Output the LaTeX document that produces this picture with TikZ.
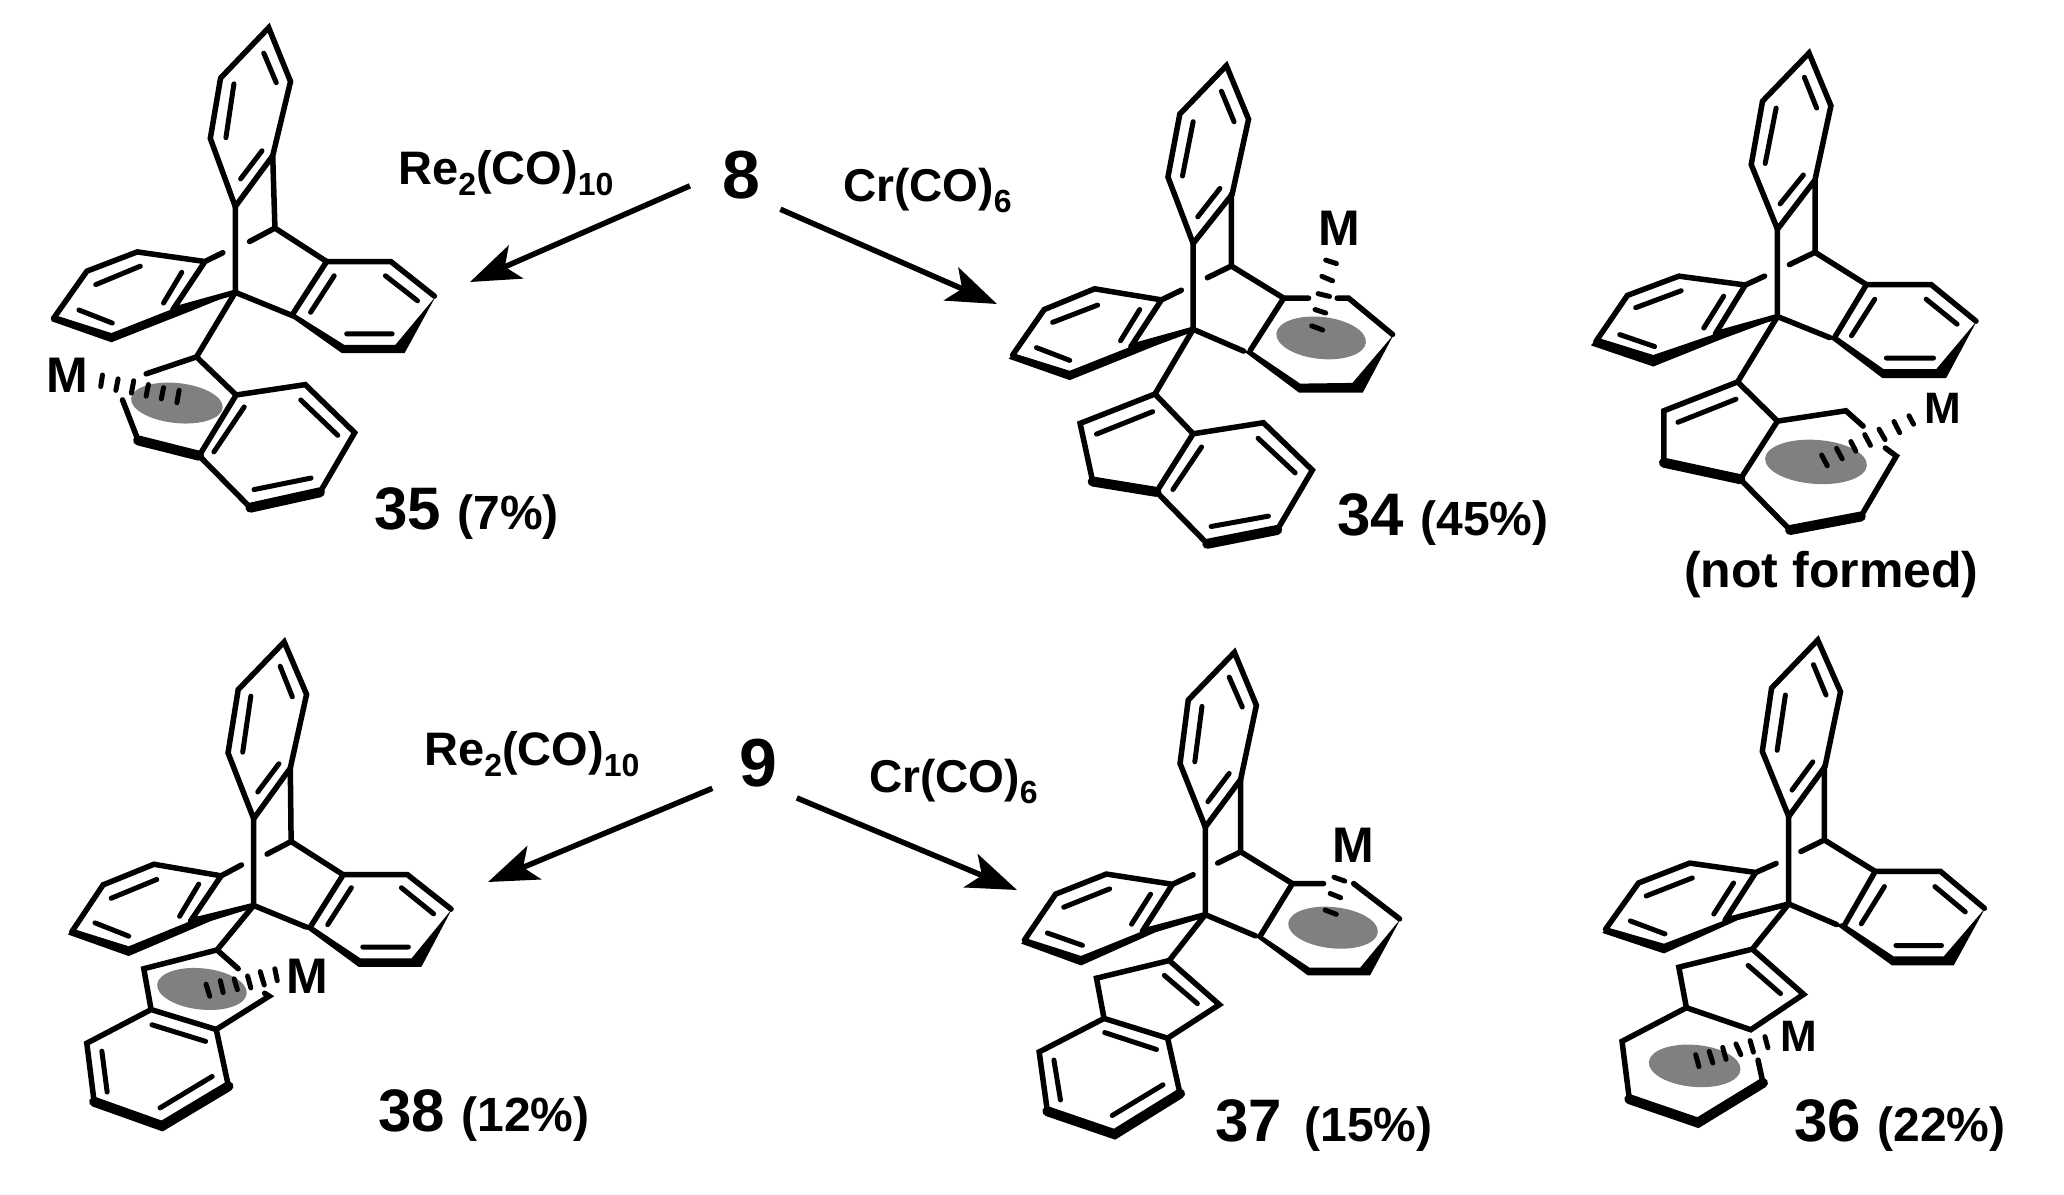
\documentclass[tikz,border=0pt]{standalone}
\usepackage{fontspec}
\setmainfont{Liberation Sans}
\usetikzlibrary{arrows.meta}
\newcommand{\lowdig}[1]{\raisebox{-0.24em}{\fontsize{32}{32}\selectfont #1}}
\newcommand{\yieldpart}[1]{{\fontsize{48}{48}\selectfont #1}}
\tikzset{
  bond/.style={line width=5.5pt, line cap=round, line join=miter},
  inbond/.style={line width=5pt, line cap=round},
  heavy/.style={line width=10pt, line cap=round},
  front/.style={fill=black},
  hash/.style={line width=5pt, line cap=round},
  metal/.style={fill=black!50},
  rxn/.style={line width=5.5pt, -{Stealth[length=50pt,width=36pt,inset=12pt]}},
  source/.style={circle, minimum size=104pt, inner sep=0pt, font=\bfseries\fontsize{68}{68}\selectfont},
  reagent/.style={anchor=base west, inner sep=0pt, font=\bfseries\fontsize{47}{47}\selectfont},
  yieldtag/.style={anchor=base west, inner sep=0pt, font=\bfseries\fontsize{60}{60}\selectfont},
  mlabel/.style={inner sep=0pt, font=\bfseries\fontsize{#1}{#1}\selectfont}
}
\begin{document}
\begin{tikzpicture}[x=1pt,y=-1pt]
  \useasboundingbox (0,0) rectangle (2064,1194);

  \node[source] (eight) at (741,175) {8};
  \node[source] (nine) at (758,763) {9};
  \coordinate (tipA) at (470,282);
  \coordinate (tipB) at (997,304);
  \coordinate (tipC) at (488,882);
  \coordinate (tipD) at (1017,890);
  \draw[rxn] (eight.192) -- (tipA);
  \draw[rxn] (eight.-41) -- (tipB);
  \draw[rxn] (nine.209) -- (tipC);
  \draw[rxn] (nine.-42) -- (tipD);

  \node[reagent] (reTop) at (398,184) {Re\lowdig{2}(CO)\lowdig{10}};
  \node[reagent, font=\bfseries\fontsize{46}{46}\selectfont] (crTop) at (843,201) {Cr(CO)\lowdig{6}};
  \node[reagent] (reLow) at (424,765) {Re\lowdig{2}(CO)\lowdig{10}};
  \node[reagent, font=\bfseries\fontsize{46}{46}\selectfont] (crLow) at (869,792) {Cr(CO)\lowdig{6}};

  \node[yieldtag] (tag35) at (374,529) {35 \yieldpart{(7\%)}};
  \node[yieldtag] (tag34) at (1337,535) {34 \yieldpart{(45\%)}};
  \node[yieldtag] (tag38) at (378,1131) {38 \yieldpart{(12\%)}};
  \node[yieldtag] (tag37) at (1215,1141) {37\hspace{6pt} \yieldpart{(15\%)}};
  \node[yieldtag] (tag36) at (1794,1141) {36 \yieldpart{(22\%)}};
  \node[reagent, font=\bfseries\fontsize{50}{50}\selectfont] (tagNone) at (1684,587) {(not formed)};

  \begin{scope}[shift={(0,0)},x=.4456pt,y=-.3846pt]
    \fill[metal] (397,1048) ellipse [x radius=46pt, y radius=20pt, rotate=-6];
    \draw[bond] (603,72) -- (652,212) -- (612,405) -- (528,537) -- (472,360) -- (495,203) -- cycle;
    \draw[inbond] (592,138) -- (620,215) (525,218) -- (507,358) (588,392) -- (540,465);
    \draw[bond] (612,405) -- (617,593) -- (733,680) (617,593) -- (560,628) (528,537) -- (528,760);
    \draw[bond] (500,657) -- (460,680) -- (308,655) -- (195,705) -- (120,828) (460,680) -- (388,805) (388,805) -- (528,760);
    \draw[inbond] (408,708) -- (367,788) (315,692) -- (215,740) (177,806) -- (252,840);
    \fill[front] (528,758) -- (388,803) -- (250,866) -- (125,820) -- (115,835) -- (250,890) -- (430,808) -- (528,762) -- cycle;
    \draw[bond] (733,680) -- (877,680) -- (975,770) (733,680) -- (655,820) -- (528,760);
    \fill[front] (645,818) -- (767,918) -- (908,918) -- (977,772) -- (887,897) -- (773,897) -- (660,815) -- cycle;
    \draw[inbond] (750,717) -- (697,812) (865,717) -- (937,782) (778,868) -- (880,868);
    \draw[bond] (528,760) -- (441,928) -- (328,972) (441,928) -- (530,1027) -- (685,1000) -- (796,1125) -- (718,1280) (562,1320) -- (447,1185) -- (530,1027) (310,1145) -- (275,1040);
    \draw[heavy] (718,1280) -- (562,1320) (447,1185) -- (310,1145);
    \draw[inbond] (548,1058) -- (480,1175) (675,1040) -- (758,1132) (698,1243) -- (570,1273);
    \draw[hash] (230,975) -- (226,1005) (265,985) -- (260,1015) (300,990) -- (295,1022) (333,1000) -- (328,1030) (367,1008) -- (362,1037) (402,1015) -- (397,1047);
    \node[mlabel=50] (mA) at (152,977) {M};
  \end{scope}

  \begin{scope}[shift={(980,30)},x=.382pt,y=-.346pt]
    \fill[metal] (893,890) ellipse [x radius=45pt, y radius=21pt, rotate=-6];
    \draw[bond] (645,103) -- (703,258) -- (660,475) -- (558,617) -- (492,425) -- (523,243) -- cycle;
    \draw[inbond] (632,177) -- (665,265) (558,265) -- (530,422) (628,458) -- (570,540);
    \draw[bond] (658,475) -- (658,682) -- (795,775) (658,682) -- (595,716) (558,617) -- (558,865);
    \draw[bond] (527,752) -- (475,780) -- (300,748) -- (168,808) -- (85,940) (475,780) -- (395,915) (395,915) -- (558,865);
    \draw[inbond] (418,808) -- (368,898) (308,795) -- (190,845) (148,918) -- (235,955);
    \fill[front] (558,863) -- (395,915) -- (235,985) -- (90,935) -- (75,950) -- (235,1012) -- (465,910) -- (558,872) -- cycle;
    \draw[bond] (860,775) -- (795,775) -- (708,925) (935,775) -- (965,775) -- (1080,880) (558,865) -- (690,928);
    \fill[front] (690,928) -- (835,1048) -- (1002,1048) -- (1083,880) -- (975,1020) -- (838,1022) -- (708,925) -- cycle;
    \draw[hash] (905,665) -- (933,675) (895,712) -- (923,725) (885,762) -- (915,770) (877,808) -- (905,818) (868,855) -- (897,867);
    \draw[bond] (558,865) -- (458,1052) -- (262,1137) -- (295,1305) (458,1052) -- (558,1167) -- (742,1135) -- (870,1272) -- (778,1445) (595,1485) -- (462,1335) -- (558,1167);
    \draw[heavy] (295,1305) -- (462,1335) (778,1445) -- (595,1485);
    \draw[inbond] (452,1103) -- (305,1168) (580,1205) -- (505,1328) (728,1180) -- (825,1280) (755,1405) -- (605,1435);
    \node[mlabel=50] (mB) at (940,573) {M};
  \end{scope}

  \begin{scope}[shift={(1561,30)},x=.332pt,y=-.3846pt]
    \fill[metal] (768,1123) ellipse [x radius=51pt, y radius=22pt, rotate=-4];
    \draw[bond] (747,60) -- (813,197) -- (765,390) -- (652,518) -- (573,350) -- (607,185) -- cycle;
    \draw[inbond] (733,123) -- (770,203) (648,203) -- (615,347) (730,377) -- (660,452);
    \draw[bond] (765,390) -- (765,578) -- (920,662) (765,578) -- (688,610) (652,518) -- (652,745);
    \draw[bond] (613,640) -- (555,663) -- (355,640) -- (200,690) -- (105,810) (555,663) -- (465,790) (465,790) -- (652,745);
    \draw[inbond] (490,692) -- (430,775) (362,678) -- (225,722) (177,792) -- (282,823);
    \fill[front] (652,745) -- (465,790) -- (278,845) -- (110,800) -- (90,820) -- (278,875) -- (480,805) -- (652,750) -- cycle;
    \draw[bond] (920,662) -- (1115,662) -- (1250,757) (920,662) -- (825,798) (652,745) -- (810,800);
    \fill[front] (808,800) -- (968,905) -- (1160,905) -- (1252,757) -- (1130,882) -- (972,882) -- (828,795) -- cycle;
    \draw[inbond] (945,700) -- (875,795) (1100,700) -- (1193,765) (980,853) -- (1122,853);
    \draw[bond] (652,745) -- (532,915) -- (310,990) -- (310,1125) (532,915) -- (652,1017) -- (858,990) -- (910,1030) (652,1017) -- (540,1168) -- (690,1300) (903,1265) -- (1010,1108) -- (977,1087);
    \draw[heavy] (310,1125) -- (540,1168) (690,1300) -- (903,1265);
    \draw[inbond] (527,960) -- (352,1020);
    \draw[hash] (1048,1003) -- (1062,1025) (1003,1018) -- (1020,1047) (958,1038) -- (976,1065) (915,1052) -- (932,1080) (873,1070) -- (888,1095) (830,1088) -- (847,1115) (785,1105) -- (802,1133);
    \node[mlabel=44] (mC) at (1150,985) {M};
  \end{scope}

  \begin{scope}[shift={(40,630)},x=.407pt,y=-.3615pt]
    \fill[metal] (398,993) ellipse [x radius=45pt, y radius=20.6pt, rotate=-6];
    \draw[bond] (600,33) -- (655,178) -- (615,382) -- (525,522) -- (462,340) -- (487,165) -- cycle;
    \draw[inbond] (590,100) -- (620,185) (518,183) -- (498,338) (587,370) -- (535,448);
    \draw[bond] (615,382) -- (617,585) -- (745,677) (617,585) -- (558,620) (525,522) -- (525,762);
    \draw[bond] (495,650) -- (445,680) -- (280,648) -- (155,705) -- (78,835) (445,680) -- (370,805) (370,805) -- (525,762);
    \draw[inbond] (390,703) -- (343,792) (287,690) -- (175,742) (135,810) -- (218,847);
    \fill[front] (525,760) -- (370,805) -- (218,875) -- (85,828) -- (68,842) -- (218,902) -- (420,805) -- (525,768) -- cycle;
    \draw[bond] (745,677) -- (903,677) -- (1010,772) (745,677) -- (665,820) (525,762) -- (655,822);
    \fill[front] (650,822) -- (783,932) -- (937,932) -- (1012,772) -- (913,908) -- (787,908) -- (670,820) -- cycle;
    \draw[inbond] (765,713) -- (707,815) (888,713) -- (967,785) (793,877) -- (905,877);
    \draw[bond] (525,762) -- (435,885) -- (487,937) (435,885) -- (255,937) -- (273,1050) -- (433,1105) -- (563,1013) -- (552,1005) (273,1050) -- (115,1143) -- (133,1305) (463,1262) -- (433,1105);
    \draw[heavy] (133,1305) -- (300,1372) -- (463,1262);
    \draw[inbond] (275,1092) -- (407,1138) (152,1165) -- (165,1278) (423,1235) -- (295,1322);
    \draw[hash] (577,937) -- (583,970) (541,945) -- (551,982) (510,957) -- (518,990) (477,965) -- (485,995) (443,970) -- (450,1003) (408,980) -- (417,1013);
    \node[mlabel=50] (mD) at (657,958) {M};
  \end{scope}

  \begin{scope}[shift={(1001.5,640)},x=.3276pt,y=-.353pt]
    \fill[metal] (1012,815) ellipse [x radius=45pt, y radius=20.6pt, rotate=-6];
    \draw[bond] (711,35) -- (778,185) -- (730,395) -- (622,530) -- (545,350) -- (570,170) -- cycle;
    \draw[inbond] (695,105) -- (735,190) (612,188) -- (590,345) (695,378) -- (630,458);
    \draw[bond] (730,395) -- (730,600) -- (888,690) (730,600) -- (660,632) (622,530) -- (622,778);
    \draw[bond] (585,665) -- (522,692) -- (320,663) -- (165,720) -- (70,850) (522,692) -- (430,825) (430,825) -- (622,778);
    \draw[inbond] (455,720) -- (397,805) (330,705) -- (190,757) (140,830) -- (247,865);
    \fill[front] (622,777) -- (430,825) -- (243,895) -- (75,845) -- (60,860) -- (243,922) -- (470,828) -- (622,785) -- cycle;
    \draw[bond] (983,690) -- (888,690) -- (790,838) (1075,690) -- (1215,790) (622,778) -- (775,838);
    \fill[front] (772,838) -- (935,950) -- (1125,950) -- (1218,790) -- (1095,928) -- (940,928) -- (790,835) -- cycle;
    \draw[hash] (1015,672) -- (1048,683) (1003,718) -- (1035,730) (988,765) -- (1022,777);
    \draw[bond] (622,778) -- (512,908) -- (290,958) -- (313,1072) -- (507,1128) -- (665,1033) -- (512,908) (313,1072) -- (115,1167) -- (140,1335) (545,1285) -- (507,1128);
    \draw[heavy] (140,1335) -- (345,1400) -- (545,1285);
    \draw[inbond] (497,950) -- (598,1030) (315,1112) -- (473,1160) (160,1190) -- (180,1303) (493,1260) -- (338,1347);
    \node[mlabel=50] (mE) at (1075,581) {M};
  \end{scope}

  \begin{scope}[shift={(1561,631)},x=.33pt,y=-.3615pt]
    \fill[metal] (405,1203) ellipse [x radius=46pt, y radius=21pt, rotate=-5];
    \draw[bond] (778,25) -- (847,168) -- (800,375) -- (690,513) -- (610,333) -- (638,158) -- cycle;
    \draw[inbond] (765,93) -- (803,177) (680,177) -- (655,330) (763,362) -- (700,440);
    \draw[bond] (798,375) -- (798,578) -- (952,665) (798,578) -- (727,610) (690,513) -- (690,755);
    \draw[bond] (652,643) -- (590,668) -- (390,642) -- (235,697) -- (135,825) (590,668) -- (497,800) (497,800) -- (690,755);
    \draw[inbond] (523,697) -- (463,783) (398,683) -- (258,733) (210,802) -- (315,838);
    \fill[front] (690,755) -- (497,800) -- (312,865) -- (140,820) -- (125,835) -- (312,892) -- (535,800) -- (690,760) -- cycle;
    \draw[bond] (952,665) -- (1150,665) -- (1283,767) (952,665) -- (860,812) (690,755) -- (835,812);
    \fill[front] (832,812) -- (1003,925) -- (1190,925) -- (1285,767) -- (1160,900) -- (1008,900) -- (855,808) -- cycle;
    \draw[inbond] (980,707) -- (910,810) (1133,707) -- (1225,777) (1015,870) -- (1153,870);
    \draw[bond] (690,755) -- (580,880) -- (357,930) -- (380,1042) -- (575,1103) -- (735,1005) -- (580,880) (380,1042) -- (185,1135) -- (207,1295) (612,1250) -- (597,1187);
    \draw[heavy] (207,1295) -- (415,1360) -- (612,1250);
    \draw[inbond] (567,925) -- (665,1003);
    \draw[hash] (618,1122) -- (627,1153) (573,1133) -- (583,1165) (530,1142) -- (545,1172) (490,1152) -- (500,1185) (449,1163) -- (460,1195) (408,1172) -- (418,1205);
    \node[mlabel=44] (mF) at (720,1120) {M};
  \end{scope}
\end{tikzpicture}
\end{document}
